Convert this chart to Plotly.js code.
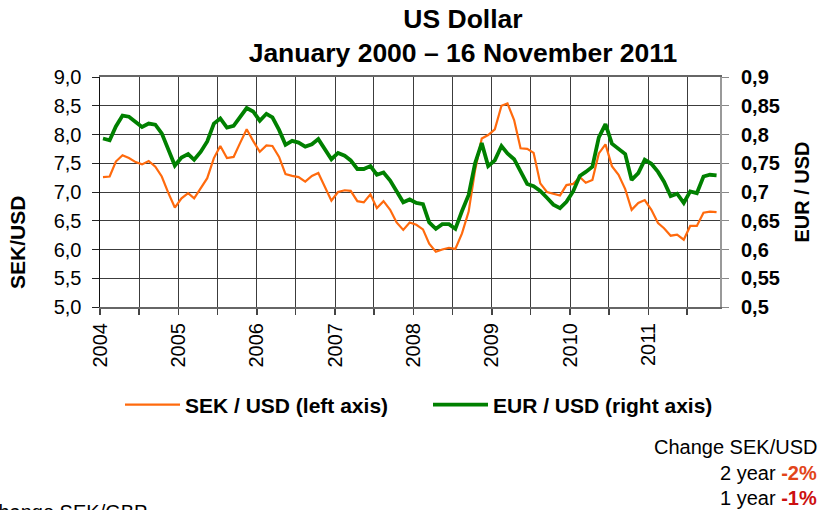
<!DOCTYPE html>
<html>
<head>
<meta charset="utf-8">
<script src="https://cdn.plot.ly/plotly-3.0.1.min.js"></script>
<style>html,body{margin:0;padding:0;background:#fff;}#chart{width:821px;height:510px;}</style>
</head>
<body>
<div id="chart"></div>
<script>
// Monthly observations, January 2004 – November 2011
const startYear = 2004;
const startMonth = 1;
const sekUsd = [
  7.26,7.27,7.53,7.64,7.59,7.52,7.48,7.54,7.44,7.27,6.98,6.73,
  6.89,6.98,6.89,7.06,7.24,7.59,7.80,7.59,7.61,7.85,8.09,7.89,
  7.70,7.81,7.80,7.61,7.31,7.28,7.26,7.18,7.28,7.33,7.10,6.85,
  7.00,7.03,7.02,6.84,6.82,6.96,6.72,6.84,6.69,6.47,6.34,6.47,
  6.43,6.35,6.10,5.96,6.00,6.03,6.01,6.28,6.66,7.38,7.93,7.99,
  8.09,8.50,8.54,8.25,7.76,7.75,7.68,7.15,7.00,6.97,6.94,7.12,
  7.14,7.26,7.16,7.21,7.67,7.83,7.45,7.30,7.05,6.69,6.81,6.86,
  6.69,6.46,6.37,6.24,6.26,6.17,6.41,6.41,6.64,6.66,6.65
];
const eurUsd = [
  0.793,0.790,0.814,0.833,0.831,0.822,0.813,0.819,0.817,0.802,0.773,0.746,
  0.760,0.766,0.756,0.770,0.788,0.819,0.828,0.812,0.815,0.831,0.846,0.840,
  0.824,0.836,0.830,0.808,0.782,0.789,0.786,0.779,0.783,0.792,0.773,0.757,
  0.768,0.763,0.755,0.740,0.740,0.745,0.730,0.734,0.720,0.702,0.682,0.687,
  0.681,0.679,0.647,0.636,0.644,0.644,0.636,0.667,0.695,0.750,0.785,0.745,
  0.755,0.780,0.767,0.757,0.735,0.714,0.710,0.702,0.690,0.678,0.672,0.683,
  0.701,0.728,0.735,0.744,0.795,0.818,0.784,0.774,0.766,0.721,0.733,0.756,
  0.749,0.735,0.718,0.693,0.697,0.681,0.701,0.698,0.727,0.730,0.729
];
const seriesNames = ['SEK / USD (left axis)', 'EUR / USD (right axis)'];
const titleLines = ['US Dollar', 'January 2000 – 16 November 2011'];
const leftAxisTitle = 'SEK/USD';
const rightAxisTitle = 'EUR / USD';
const changeHeader = 'Change SEK/USD';
const changeLabels = ['2 year', '1 year'];
const changeValues = ['-2%', '-1%'];
const cutOffText = 'Change SEK/GBP';

// month dates (mid-month)
const dates = sekUsd.map((_, i) => {
  const t = (startMonth - 1) + i;
  const y = startYear + Math.floor(t / 12);
  const m = (t % 12) + 1;
  return y + '-' + String(m).padStart(2, '0') + '-15';
});

const FONT = 'Liberation Sans, Arial, sans-serif';
const GRID = '#3c3c3c';

const traces = [
  {x: dates, y: sekUsd, name: seriesNames[0], type: 'scatter', mode: 'lines',
   line: {color: '#ff6a0d', width: 2.2}, yaxis: 'y', legend: 'legend'},
  {x: dates, y: eurUsd, name: seriesNames[1], type: 'scatter', mode: 'lines',
   line: {color: '#008000', width: 3.8}, yaxis: 'y2', legend: 'legend2'}
];

const PL = 100, PR = 720, PT = 77, PB = 307;
const W = PR - PL, H = PB - PT;
const px = v => (v - PL) / W;
const py = v => (PB - v) / H;

const legendStyle = (xPix) => ({
  orientation: 'h', x: px(xPix), xanchor: 'left', y: py(405), yanchor: 'middle',
  font: {family: FONT, size: 21, weight: 'bold', color: '#000'},
  itemwidth: 55, bgcolor: 'rgba(0,0,0,0)'
});

const layout = {
  width: 821, height: 510,
  margin: {l: PL, r: 821 - PR, t: PT, b: 510 - PB, pad: 0},
  paper_bgcolor: '#fff', plot_bgcolor: '#fff',
  separators: ', ',
  font: {family: FONT, size: 20, color: '#000'},
  showlegend: true,
  title: {
    text: titleLines.join('<br>'),
    font: {family: FONT, size: 26.5, weight: 'bold', color: '#000'},
    xref: 'container', x: 463 / 821, xanchor: 'center',
    yref: 'container', y: 1 - 28 / 510, yanchor: 'top'
  },
  xaxis: {
    type: 'date',
    range: ['2004-01-01', '2011-12-01'],
    dtick: 'M12', tick0: '2004-01-01', tickformat: '%Y',
    tickangle: -90,
    ticks: 'outside', ticklen: 6, tickcolor: '#444', tickwidth: 1.5,
    showgrid: true, gridcolor: GRID, gridwidth: 1,
    minor: {dtick: 'M6', showgrid: true, gridcolor: GRID, gridwidth: 1, ticks: 'outside', ticklen: 6, tickcolor: '#444'},
    showline: true, linecolor: '#666', linewidth: 2, mirror: true,
    tickfont: {family: FONT, size: 20, color: '#000'},
    zeroline: false, fixedrange: true
  },
  yaxis: {
    range: [5, 9], dtick: 0.5, tickformat: '.1f',
    ticks: 'outside', ticklen: 7, tickcolor: '#222',
    showgrid: true, gridcolor: GRID, gridwidth: 1,
    showline: true, linecolor: '#111', linewidth: 1.5,
    tickfont: {family: FONT, size: 20, color: '#000'},
    ticklabelstandoff: 6,
    zeroline: false, fixedrange: true
  },
  yaxis2: {
    range: [0.5, 0.9], dtick: 0.05, overlaying: 'y', side: 'right',
    ticks: 'outside', ticklen: 7, tickcolor: '#888',
    showgrid: false,
    showline: true, linecolor: '#999', linewidth: 2,
    tickfont: {family: FONT, size: 20, color: '#000', weight: 'bold'},
    ticklabelstandoff: 8,
    title: {text: rightAxisTitle, font: {family: FONT, size: 20, weight: 'bold', color: '#000'}, standoff: 16},
    zeroline: false, fixedrange: true
  },
  legend: legendStyle(120),
  legend2: legendStyle(428),
  annotations: [
    {text: leftAxisTitle, textangle: -90, xref: 'paper', yref: 'paper',
     x: px(17), y: py(243), xanchor: 'center', yanchor: 'middle', showarrow: false,
     font: {family: FONT, size: 21, weight: 'bold', color: '#000'}},
    {text: changeHeader, xref: 'paper', yref: 'paper', x: px(819), y: py(447),
     xanchor: 'right', yanchor: 'middle', showarrow: false,
     font: {family: FONT, size: 20, color: '#000'}},
    {text: changeLabels[0] + ' <b><span style="color:#e2451a">' + changeValues[0] + '</span></b>',
     xref: 'paper', yref: 'paper', x: px(819), y: py(473),
     xanchor: 'right', yanchor: 'middle', showarrow: false,
     font: {family: FONT, size: 20, color: '#000'}},
    {text: changeLabels[1] + ' <b><span style="color:#cc1010">' + changeValues[1] + '</span></b>',
     xref: 'paper', yref: 'paper', x: px(819), y: py(498),
     xanchor: 'right', yanchor: 'middle', showarrow: false,
     font: {family: FONT, size: 20, color: '#000'}},
    {text: cutOffText, xref: 'paper', yref: 'paper', x: px(149), y: py(512),
     xanchor: 'right', yanchor: 'middle', showarrow: false,
     font: {family: FONT, size: 20, color: '#000'}}
  ]
};

Plotly.newPlot('chart', traces, layout, {displayModeBar: false, staticPlot: true});
</script>
</body>
</html>
